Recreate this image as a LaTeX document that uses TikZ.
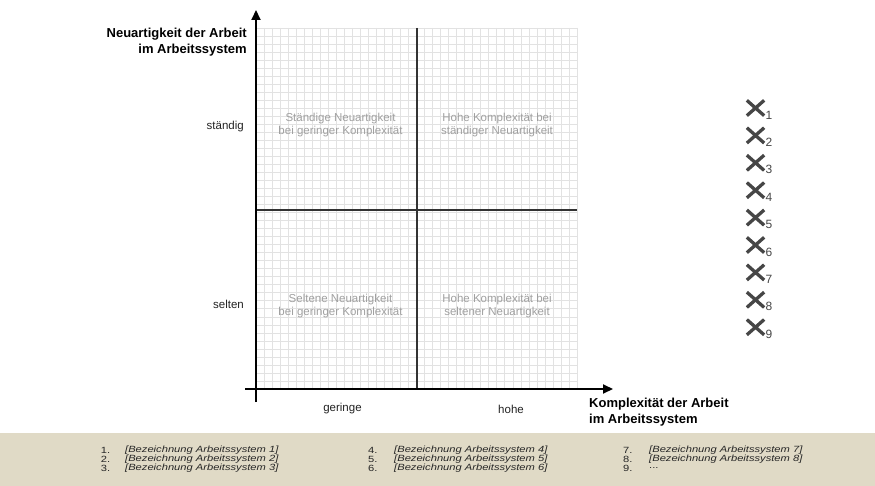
\documentclass[tikz,border=0pt]{standalone}
\usepackage{fontspec}
\setmainfont{Liberation Sans}
\newfontfamily\listfont[FakeStretch=1.24]{Liberation Sans}
\usetikzlibrary{arrows.meta,shapes.misc}
\definecolor{gridc}{RGB}{226,226,226}
\definecolor{quadc}{RGB}{160,160,160}
\definecolor{bandc}{RGB}{224,218,198}
\definecolor{crossc}{RGB}{70,70,70}
\definecolor{tickc}{RGB}{35,35,35}
\tikzset{
  gridline/.style={draw=gridc, line width=0.6pt},
  axis/.style={line width=2pt, -{Triangle[length=10pt,width=9pt]}},
  midline/.style={draw=black!80, line width=1.1pt},
  axtitle/.style={font=\fontsize{13}{16}\selectfont\bfseries, inner sep=0pt},
  quadlabel/.style={font=\fontsize{11.5}{13}\selectfont, text=quadc, align=center, inner sep=0pt},
  ticklabel/.style={font=\fontsize{11.5}{13}\selectfont, text=tickc, inner sep=0pt},
  crossmark/.style={cross out, draw=crossc, line width=3.3pt, minimum width=14pt, minimum height=12pt, inner sep=0pt},
  subnum/.style={font=\fontsize{12}{12}\selectfont, text=crossc, inner sep=0pt, anchor=west},
  listnum/.style={font=\listfont\fontsize{9}{9}\selectfont, text=black!85, inner sep=0pt, anchor=west},
  listtext/.style={font=\listfont\itshape\fontsize{9}{9}\selectfont, text=black!85, inner sep=0pt, anchor=west},
}
\begin{document}
\begin{tikzpicture}[x=1pt,y=-1pt]
\useasboundingbox (0,0) rectangle (875,486);
\fill[white] (0,0) rectangle (875,486);
% bottom band
\fill[bandc] (0,433) rectangle (875,486);
% grid
\foreach \i in {0,...,40} {
  \draw[gridline] ({256+\i*8.025},28) -- ({256+\i*8.025},389);
}
\foreach \j in {0,...,45} {
  \draw[gridline] (256,{389-\j*8.022}) -- (577,{389-\j*8.022});
}
% middle lines
\coordinate (vtop) at (417,28);
\coordinate (vbot) at (417,389);
\coordinate (hleft) at (256,210);
\coordinate (hright) at (577,210);
\draw[midline] (vtop) -- (vbot);
\draw[midline] (hleft) -- (hright);
% axes
\coordinate (yaxs) at (256,402);
\coordinate (yaxe) at (256,10);
\coordinate (xaxs) at (245,389);
\coordinate (xaxe) at (613,389);
\draw[axis] (yaxs) -- (yaxe);
\draw[axis] (xaxs) -- (xaxe);
% axis titles
\node[axtitle, anchor=east, align=right] (ytitle) at (247,42.5) {Neuartigkeit der Arbeit\\im Arbeitssystem};
\node[axtitle, anchor=west, align=left] (xtitle) at (589,412.5) {Komplexität der Arbeit\\im Arbeitssystem};
% tick labels
\node[ticklabel, anchor=east] (staendig) at (244,126.5) {ständig};
\node[ticklabel, anchor=east] (selten) at (244,304) {selten};
\node[ticklabel] (geringe) at (342.5,409) {geringe};
\node[ticklabel] (hohe) at (511,409) {hohe};
% quadrant labels
\node[quadlabel] (q1) at (340.5,125.3) {Ständige Neuartigkeit\\bei geringer Komplexität};
\node[quadlabel] (q2) at (497,125.3) {Hohe Komplexität bei\\ständiger Neuartigkeit};
\node[quadlabel] (q3) at (340.5,306.3) {Seltene Neuartigkeit\\bei geringer Komplexität};
\node[quadlabel] (q4) at (497,306.3) {Hohe Komplexität bei\\seltener Neuartigkeit};
% crosses
\foreach \i in {1,...,9} {
  \node[crossmark] (x\i) at (755.5,{108+(\i-1)*27.4}) {};
  \node[subnum] (s\i) at (765.5,{115+(\i-1)*27.4}) {\i};
}
% list
\foreach \i/\px/\tx/\py in {1/100.7/125/450, 2/100.7/125/459.2, 3/100.7/125/468.4,
                            4/368/394/450, 5/368/394/459.2, 6/368/394/468.4,
                            7/623/649/450, 8/623/649/459.2} {
  \node[listnum] (n\i) at (\px,\py) {\i.};
  \node[listtext] (t\i) at (\tx,\py) {[Bezeichnung Arbeitssystem \i]};
}
\node[listnum] (n9) at (623,468.4) {9.};
\node[listnum] (t9) at (649,468.4) {...};
\end{tikzpicture}
\end{document}
